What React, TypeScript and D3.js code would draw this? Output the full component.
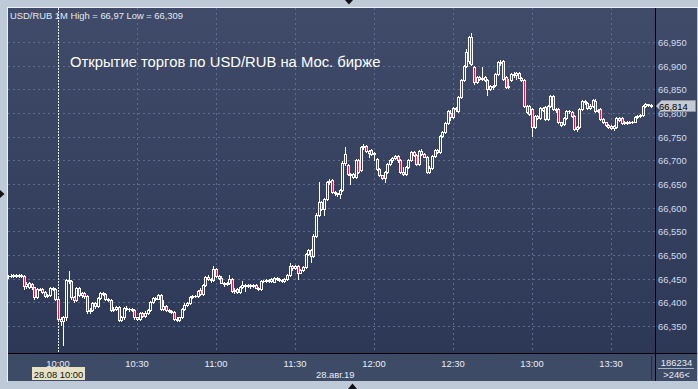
import React from "react";
import * as d3 from "d3";

const W = 698;
const H = 389;

const firstBar = "09:41";
const opens = [
66.455,66.455,66.456,66.457,66.455,66.457,66.456,66.435,66.432,66.438,
66.432,66.412,66.428,66.428,66.422,66.414,66.416,66.430,66.429,66.407,
66.365,66.360,66.368,66.448,66.446,66.412,66.404,66.431,66.416,66.419,
66.413,66.381,66.384,66.398,66.392,66.410,66.420,66.418,66.407,66.404,
66.384,66.386,66.390,66.363,66.368,66.388,66.385,66.386,66.383,66.368,
66.365,66.378,66.372,66.378,66.383,66.400,66.410,66.408,66.415,66.386,
66.392,66.384,66.382,66.380,66.365,66.363,66.368,66.386,66.395,66.399,
66.412,66.414,66.413,66.426,66.417,66.436,66.454,66.450,66.448,66.470,
66.455,66.452,66.441,66.438,66.440,66.450,66.424,66.428,66.422,66.433,
66.437,66.434,66.436,66.435,66.436,66.431,66.428,66.446,66.445,66.447,
66.449,66.443,66.452,66.450,66.447,66.446,66.450,66.458,66.476,66.472,
66.477,66.463,66.468,66.474,66.502,66.511,66.498,66.540,66.585,66.612,
66.598,66.619,66.654,66.658,66.633,66.630,66.628,66.638,66.694,66.691,
66.672,66.672,66.665,66.700,66.680,66.728,66.731,66.720,66.721,66.713,
66.703,66.682,66.668,66.662,66.675,66.693,66.700,66.705,66.710,66.700,
66.675,66.672,66.685,66.700,66.717,66.712,66.693,66.720,66.713,66.708,
66.676,66.684,66.710,66.721,66.718,66.752,66.760,66.779,66.801,66.791,
66.810,66.805,66.834,66.870,66.900,66.910,66.961,66.897,66.865,66.876,
66.872,66.876,66.870,66.851,66.857,66.860,66.883,66.907,66.910,66.876,
66.855,66.870,66.883,66.880,66.884,66.875,66.870,66.815,66.814,66.808,
66.770,66.794,66.790,66.810,66.812,66.787,66.815,66.836,66.808,66.808,
66.780,66.776,66.790,66.805,66.803,66.794,66.766,66.770,66.808,66.826,
66.822,66.810,66.815,66.826,66.805,66.808,66.787,66.780,66.775,66.773,
66.768,66.770,66.789,66.789,66.779,66.781,66.779,66.782,66.782,66.791,
66.793,66.796,66.814,66.819,66.817];
const highs = [
66.458,66.459,66.460,66.459,66.459,66.460,66.458,66.442,66.442,66.440,
66.433,66.430,66.430,66.430,66.424,66.418,66.432,66.432,66.430,66.410,
66.368,66.372,66.450,66.467,66.448,66.414,66.433,66.433,66.422,66.421,
66.415,66.388,66.400,66.401,66.412,66.422,66.422,66.420,66.409,66.406,
66.390,66.392,66.392,66.372,66.390,66.392,66.389,66.388,66.385,66.370,
66.380,66.380,66.382,66.386,66.402,66.412,66.412,66.418,66.417,66.405,
66.394,66.386,66.384,66.382,66.368,66.370,66.388,66.398,66.401,66.414,
66.416,66.416,66.426,66.431,66.438,66.456,66.457,66.452,66.476,66.473,
66.457,66.455,66.443,66.443,66.457,66.452,66.430,66.430,66.435,66.445,
66.439,66.438,66.438,66.438,66.438,66.433,66.448,66.448,66.449,66.449,
66.451,66.454,66.454,66.452,66.449,66.452,66.460,66.483,66.478,66.479,
66.479,66.470,66.476,66.504,66.512,66.513,66.545,66.588,66.654,66.614,
66.621,66.657,66.660,66.660,66.636,66.632,66.640,66.698,66.729,66.693,
66.674,66.674,66.702,66.702,66.730,66.734,66.733,66.722,66.723,66.718,
66.705,66.684,66.670,66.677,66.695,66.702,66.707,66.712,66.712,66.702,
66.686,66.687,66.702,66.719,66.720,66.714,66.722,66.723,66.715,66.710,
66.688,66.712,66.723,66.724,66.754,66.762,66.781,66.807,66.806,66.812,
66.813,66.836,66.872,66.902,66.936,66.963,66.970,66.899,66.878,66.878,
66.898,66.878,66.872,66.860,66.860,66.885,66.909,66.912,66.913,66.878,
66.872,66.885,66.886,66.886,66.886,66.877,66.872,66.817,66.817,66.810,
66.796,66.796,66.812,66.812,66.814,66.817,66.838,66.838,66.810,66.810,
66.782,66.792,66.807,66.807,66.805,66.796,66.772,66.810,66.828,66.828,
66.824,66.820,66.830,66.830,66.808,66.810,66.789,66.782,66.777,66.775,
66.775,66.791,66.791,66.791,66.784,66.784,66.784,66.784,66.793,66.796,
66.798,66.816,66.822,66.820,66.818];
const lows = [
66.452,66.453,66.454,66.453,66.453,66.454,66.428,66.430,66.430,66.428,
66.406,66.410,66.425,66.420,66.412,66.412,66.414,66.426,66.405,66.360,
66.352,66.309,66.362,66.440,66.408,66.400,66.402,66.414,66.412,66.410,
66.378,66.377,66.382,66.389,66.390,66.408,66.415,66.405,66.402,66.382,
66.382,66.384,66.360,66.360,66.365,66.383,66.382,66.381,66.365,66.362,
66.363,66.370,66.370,66.376,66.381,66.398,66.405,66.406,66.384,66.384,
66.381,66.380,66.378,66.363,66.361,66.360,66.366,66.384,66.392,66.397,
66.410,66.411,66.411,66.415,66.415,66.434,66.448,66.444,66.446,66.453,
66.450,66.440,66.435,66.436,66.438,66.422,66.420,66.420,66.420,66.431,
66.424,66.432,66.431,66.432,66.430,66.426,66.427,66.443,66.444,66.443,
66.443,66.442,66.448,66.446,66.444,66.444,66.448,66.456,66.469,66.470,
66.449,66.461,66.466,66.472,66.500,66.485,66.496,66.538,66.583,66.596,
66.584,66.617,66.650,66.630,66.627,66.624,66.621,66.636,66.690,66.670,
66.651,66.663,66.662,66.674,66.678,66.725,66.718,66.706,66.711,66.700,
66.680,66.666,66.660,66.654,66.673,66.690,66.697,66.703,66.697,66.673,
66.670,66.670,66.683,66.698,66.709,66.691,66.690,66.711,66.706,66.674,
66.674,66.682,66.708,66.715,66.716,66.750,66.758,66.777,66.785,66.789,
66.805,66.803,66.832,66.868,66.898,66.905,66.902,66.862,66.863,66.870,
66.870,66.868,66.839,66.848,66.850,66.858,66.881,66.902,66.870,66.853,
66.853,66.868,66.877,66.872,66.873,66.868,66.813,66.799,66.795,66.751,
66.768,66.788,66.788,66.805,66.785,66.785,66.813,66.806,66.803,66.778,
66.772,66.774,66.788,66.800,66.792,66.764,66.762,66.768,66.806,66.818,
66.808,66.808,66.813,66.803,66.803,66.785,66.778,66.772,66.769,66.766,
66.765,66.768,66.784,66.777,66.777,66.777,66.778,66.779,66.780,66.789,
66.791,66.794,66.812,66.815,66.813];
const closes = [
66.455,66.456,66.457,66.455,66.457,66.456,66.435,66.438,66.440,66.432,
66.412,66.428,66.427,66.422,66.414,66.416,66.430,66.429,66.407,66.365,
66.360,66.368,66.448,66.446,66.412,66.404,66.431,66.416,66.419,66.413,
66.381,66.384,66.398,66.392,66.410,66.420,66.418,66.407,66.404,66.384,
66.386,66.390,66.363,66.368,66.388,66.385,66.386,66.383,66.368,66.365,
66.378,66.372,66.378,66.383,66.400,66.410,66.408,66.415,66.386,66.392,
66.384,66.382,66.380,66.365,66.363,66.368,66.386,66.395,66.399,66.412,
66.414,66.413,66.424,66.417,66.436,66.454,66.450,66.448,66.470,66.455,
66.452,66.441,66.438,66.440,66.450,66.424,66.426,66.422,66.433,66.437,
66.434,66.436,66.435,66.436,66.431,66.428,66.446,66.445,66.447,66.445,
66.445,66.452,66.450,66.447,66.446,66.450,66.458,66.476,66.472,66.477,
66.463,66.468,66.474,66.502,66.510,66.498,66.540,66.585,66.612,66.598,
66.619,66.654,66.656,66.633,66.630,66.628,66.638,66.694,66.714,66.672,
66.670,66.665,66.700,66.676,66.728,66.731,66.720,66.716,66.713,66.715,
66.682,66.668,66.662,66.675,66.693,66.700,66.705,66.710,66.700,66.675,
66.672,66.685,66.700,66.717,66.712,66.693,66.720,66.713,66.708,66.676,
66.684,66.710,66.721,66.718,66.752,66.760,66.779,66.805,66.791,66.810,
66.808,66.834,66.870,66.900,66.929,66.961,66.904,66.865,66.876,66.872,
66.874,66.870,66.851,66.857,66.855,66.883,66.907,66.905,66.872,66.855,
66.858,66.883,66.880,66.884,66.875,66.870,66.815,66.802,66.797,66.770,
66.794,66.790,66.810,66.807,66.787,66.815,66.836,66.808,66.806,66.780,
66.775,66.790,66.805,66.804,66.794,66.766,66.770,66.808,66.826,66.823,
66.810,66.815,66.828,66.805,66.806,66.787,66.780,66.775,66.771,66.768,
66.772,66.789,66.786,66.779,66.781,66.779,66.782,66.781,66.791,66.794,
66.796,66.814,66.819,66.817,66.814];

const priceTicks = [66.35, 66.4, 66.45, 66.5, 66.55, 66.6, 66.65, 66.7, 66.75, 66.8, 66.85, 66.9, 66.95];
const timeTicks = ["10:00", "10:30", "11:00", "11:30", "12:00", "12:30", "13:00", "13:30"];
const sessionOpen = "10:00";
const lastPrice = 66.814;
const headerText = "USD/RUB 1M High = 66,97 Low = 66,309";
const annotation = "Открытие торгов по USD/RUB на Мос. бирже";
const cursorDate = "28.08 10:00";
const dayLabel = "28.авг.19";
const volumeLabel = "186234";
const barsLabel = ">246<";

const toMin = (s: string) => {
  const [h, m] = s.split(":").map(Number);
  return h * 60 + m;
};
const fmt = (v: number, d: number) => v.toFixed(d).replace(".", ",");

const PL = 8, PR = 655, PT = 8, PB = 353;
const FONT = "'Liberation Sans', Arial, sans-serif";

export default function App() {
  const x = d3.scaleLinear().domain([toMin("10:00"), toMin("13:30")]).range([58, 611]);
  const y = d3.scaleLinear().domain([66.35, 66.95]).range([326, 42]);
  const start = toMin(firstBar);

  const candles = opens.map((o, i) => {
    const c = closes[i], h = highs[i], l = lows[i];
    const cx = Math.round(x(start + i));
    const top = Math.round(y(Math.max(o, c)));
    const bot = Math.round(y(Math.min(o, c)));
    const hi = Math.round(y(h));
    const lo = Math.round(y(l));
    const down = c < o;
    const els: React.ReactNode[] = [];
    if (hi < top) els.push(<line key="h" x1={cx + 0.5} x2={cx + 0.5} y1={hi} y2={top} stroke="#fff" strokeWidth={1} />);
    if (lo > bot) els.push(<line key="l" x1={cx + 0.5} x2={cx + 0.5} y1={bot + 1} y2={lo + 1} stroke="#fff" strokeWidth={1} />);
    if (bot - top < 1) {
      els.push(<line key="b" x1={cx - 1} x2={cx + 2} y1={top + 0.5} y2={top + 0.5} stroke="#fff" strokeWidth={1} />);
    } else {
      els.push(
        <rect key="b" x={cx - 0.5} y={top + 0.5} width={2} height={bot - top}
          fill={down ? "#e8173a" : "none"} stroke="#fff" strokeWidth={1} />
      );
    }
    return <g key={i}>{els}</g>;
  });

  const ly = Math.round(y(lastPrice));

  return (
    <svg width={W} height={H} style={{ position: "absolute", left: 0, top: 0, display: "block" }} fontFamily={FONT}>
      <defs>
        <linearGradient id="bg" x1="0" y1="0" x2="0" y2="1">
          <stop offset="0" stopColor="#3f4b68" />
          <stop offset="1" stopColor="#2c3856" />
        </linearGradient>
        <clipPath id="plot">
          <rect x={PL} y={PT} width={PR - PL} height={PB - PT} />
        </clipPath>
      </defs>
      <rect x={0} y={0} width={W} height={H} fill="#bfcad8" />
      <line x1={7.5} x2={7.5} y1={7} y2={382} stroke="#eef2f7" />
      <line x1={7} x2={698} y1={7.5} y2={7.5} stroke="#eef2f7" />
      <rect x={PL} y={PT} width={W - PL - 1} height={PB - PT} fill="url(#bg)" />
      <rect x={PL} y={PB} width={W - PL - 1} height={381 - PB} fill="#3e4b66" />

      {/* grid */}
      {priceTicks.map((p) => (
        <line key={p} x1={PL} x2={PR} y1={Math.round(y(p)) + 0.5} y2={Math.round(y(p)) + 0.5}
          stroke="#5d6c8a" strokeDasharray="2,3" />
      ))}
      {timeTicks.filter((t) => t !== sessionOpen).map((t) => (
        <line key={t} x1={Math.round(x(toMin(t))) + 0.5} x2={Math.round(x(toMin(t))) + 0.5} y1={PT} y2={PB}
          stroke="#5d6c8a" strokeDasharray="2,3" />
      ))}
      <line x1={Math.round(x(toMin(sessionOpen))) + 0.5} x2={Math.round(x(toMin(sessionOpen))) + 0.5} y1={PT} y2={PB}
        stroke="#e8ecf2" strokeDasharray="2,1" />

      <g clipPath="url(#plot)">{candles}</g>

      <text x={10} y={18.5} fontSize={9.4} fill="#e4e9f2">{headerText}</text>
      <text x={70} y={67} fontSize={14.8} fill="#ffffff">{annotation}</text>

      {/* frame lines */}
      <line x1={PL} x2={W - 1} y1={PB + 0.5} y2={PB + 0.5} stroke="#000" />
      <line x1={PR + 0.5} x2={PR + 0.5} y1={PT} y2={381} stroke="#000" />
      <line x1={651.5} x2={651.5} y1={356} y2={380} stroke="#262c3a" />

      {/* price axis */}
      {priceTicks.map((p) => (
        <text key={p} x={658} y={Math.round(y(p)) + 3.5} fontSize={9.4} fill="#d2dcef">{fmt(p, 3)}</text>
      ))}
      <polygon points={`656,${ly} 661.5,${ly - 5.5} 695.5,${ly - 5.5} 695.5,${ly + 5.5} 661.5,${ly + 5.5}`}
        fill="#c6cad2" stroke="#8d939e" />
      <text x={659} y={ly + 3.5} fontSize={9.4} fill="#000">{fmt(lastPrice, 3)}</text>

      {/* time axis */}
      {timeTicks.map((t) => (
        <text key={t} x={x(toMin(t))} y={366.5} fontSize={9.4} fill="#e8edf6" textAnchor="middle">{t}</text>
      ))}
      <rect x={32} y={367} width={53} height={13} fill="#e6e2c6" />
      <text x={58.5} y={377.5} fontSize={9.4} fill="#111" textAnchor="middle">{cursorDate}</text>
      <text x={316} y={377.5} fontSize={9.4} fill="#e8edf6">{dayLabel}</text>

      <text x={676.5} y={366} fontSize={9.4} fill="#e8edf6" textAnchor="middle">{volumeLabel}</text>
      <line x1={658} x2={694} y1={368.5} y2={368.5} stroke="#aab4c6" />
      <text x={676.5} y={378} fontSize={9.4} fill="#e8edf6" textAnchor="middle">{barsLabel}</text>

      {/* small triangles on frame */}
      <polygon points="345,0 353,0 349,4.5" fill="#111" />
      <polygon points="348,389 357,389 352.5,383.5" fill="#111" />
      <polygon points="0,190 0,198 4.5,194" fill="#111" />
    </svg>
  );
}
